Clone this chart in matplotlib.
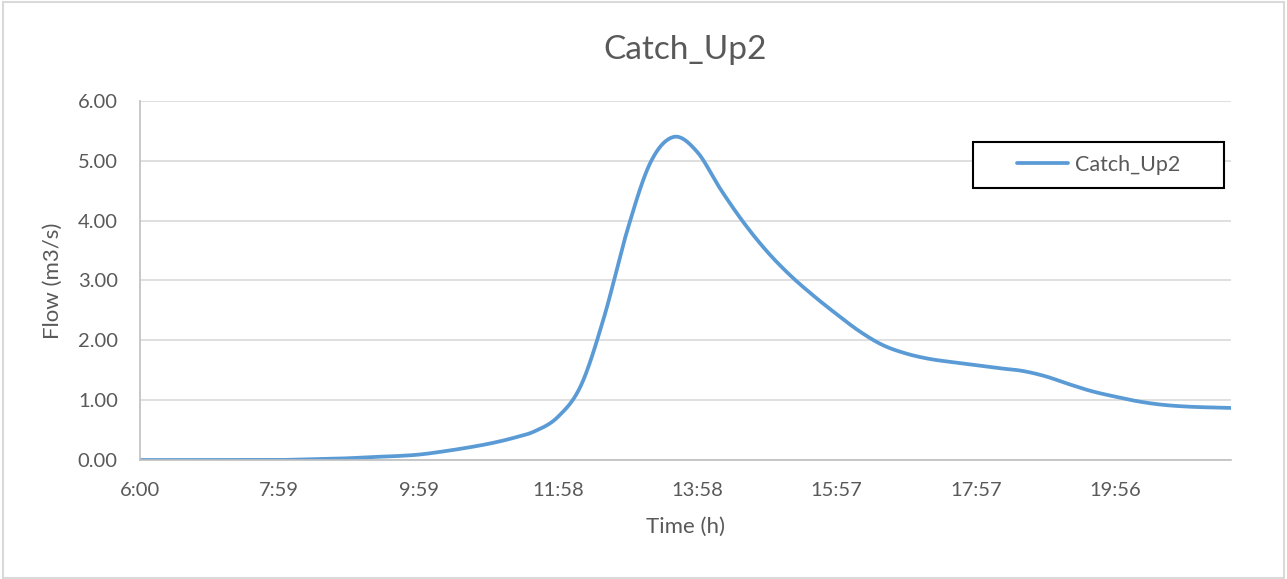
import numpy as np
import matplotlib.pyplot as plt
from matplotlib.patches import Rectangle

# Simulated outflow hydrograph, one reading every 19.9 min starting 6:00
flow = [0.00, 0.00, 0.00, 0.00, 0.00, 0.00, 0.00, 0.01, 0.02, 0.03,
        0.05, 0.065, 0.09, 0.14, 0.20, 0.27, 0.36, 0.48, 0.72, 1.25,
        2.40, 3.85, 4.98, 5.40, 5.15, 4.53, 3.97, 3.49, 3.09, 2.75,
        2.44, 2.15, 1.92, 1.78, 1.69, 1.635, 1.585, 1.535, 1.49, 1.40,
        1.27, 1.15, 1.06, 0.98, 0.925, 0.895, 0.88, 0.87]
tick_labels = ["6:00", "7:59", "9:59", "11:58", "13:58", "15:57", "17:57", "19:56"]
label_every = 6
series_name = "Catch_Up2"


def smooth(x, y, steps=20):
    # Catmull-Rom style smoothing, like a spreadsheet "smoothed line"
    x = np.asarray(x, float)
    y = np.asarray(y, float)
    px = np.concatenate([[x[0]], x, [x[-1]]])
    py = np.concatenate([[y[0]], y, [y[-1]]])
    xs, ys = [], []
    s = np.linspace(0, 1, steps, endpoint=False)
    for i in range(1, len(px) - 2):
        p0, p1, p2, p3 = py[i - 1], py[i], py[i + 1], py[i + 2]
        q0, q1, q2, q3 = px[i - 1], px[i], px[i + 1], px[i + 2]
        for a, b, c, d, out in ((q0, q1, q2, q3, xs), (p0, p1, p2, p3, ys)):
            out.extend(0.5 * (2 * b + (-a + c) * s
                              + (2 * a - 5 * b + 4 * c - d) * s ** 2
                              + (-a + 3 * b - 3 * c + d) * s ** 3))
    xs.append(x[-1])
    ys.append(y[-1])
    return np.array(xs), np.array(ys)


plt.rcParams['font.family'] = ['Lato', 'DejaVu Sans']
text_color = '#595959'

fig = plt.figure(figsize=(12.87, 5.79), dpi=100)
ax = fig.add_axes([0.1088, 0.2055, 0.8477, 0.6201])

idx = np.arange(len(flow))
sx, sy = smooth(idx, flow)
ax.plot(sx, sy, color='#5B9BD5', linewidth=2.7, label=series_name,
        solid_capstyle='round')

ax.set_xlim(0, len(flow) - 1)
ax.set_ylim(0, 6)
ax.set_yticks(np.arange(0, 7, 1))
ax.set_yticklabels([f"{v:.2f}" for v in range(7)])
ax.set_xticks(idx[::label_every])
ax.set_xticklabels(tick_labels)

ax.grid(True, axis='y', color='#D9D9D9', linewidth=1.2)
ax.set_axisbelow(True)
for side in ('top', 'right'):
    ax.spines[side].set_visible(False)
ax.spines['left'].set_color('#BFBFBF')
ax.spines['bottom'].set_color('#BFBFBF')
ax.spines['left'].set_linewidth(1.2)
ax.spines['bottom'].set_linewidth(1.2)
ax.tick_params(axis='both', length=0, labelsize=14.5, colors=text_color)
ax.tick_params(axis='x', pad=16)
ax.tick_params(axis='y', pad=16)

ax.set_title("Catch_Up2", fontsize=24, color=text_color, pad=30)
ax.set_xlabel("Time (h)", fontsize=16, color=text_color, labelpad=13)
ax.set_ylabel("Flow (m3/s)", fontsize=16, color=text_color, labelpad=11)

# legend box drawn separately so it can be wider than its contents
ax.add_patch(Rectangle((0.7635, 0.758), 0.2301, 0.128, transform=ax.transAxes,
                       facecolor='white', edgecolor='black', linewidth=1.5,
                       zorder=4, clip_on=False))
leg = ax.legend(loc='center', bbox_to_anchor=(0.7635 + 0.2301 / 2, 0.822),
                frameon=False, fontsize=15.5, handlelength=2.4,
                handletextpad=0.3)
leg.set_zorder(5)
for t in leg.get_texts():
    t.set_color(text_color)

# chart area border
fig.patches.append(Rectangle((0.002, 0.002), 0.996, 0.994, transform=fig.transFigure,
                             fill=False, edgecolor='#D9D9D9', linewidth=1.5))

fig.savefig("out.png", dpi=100)
